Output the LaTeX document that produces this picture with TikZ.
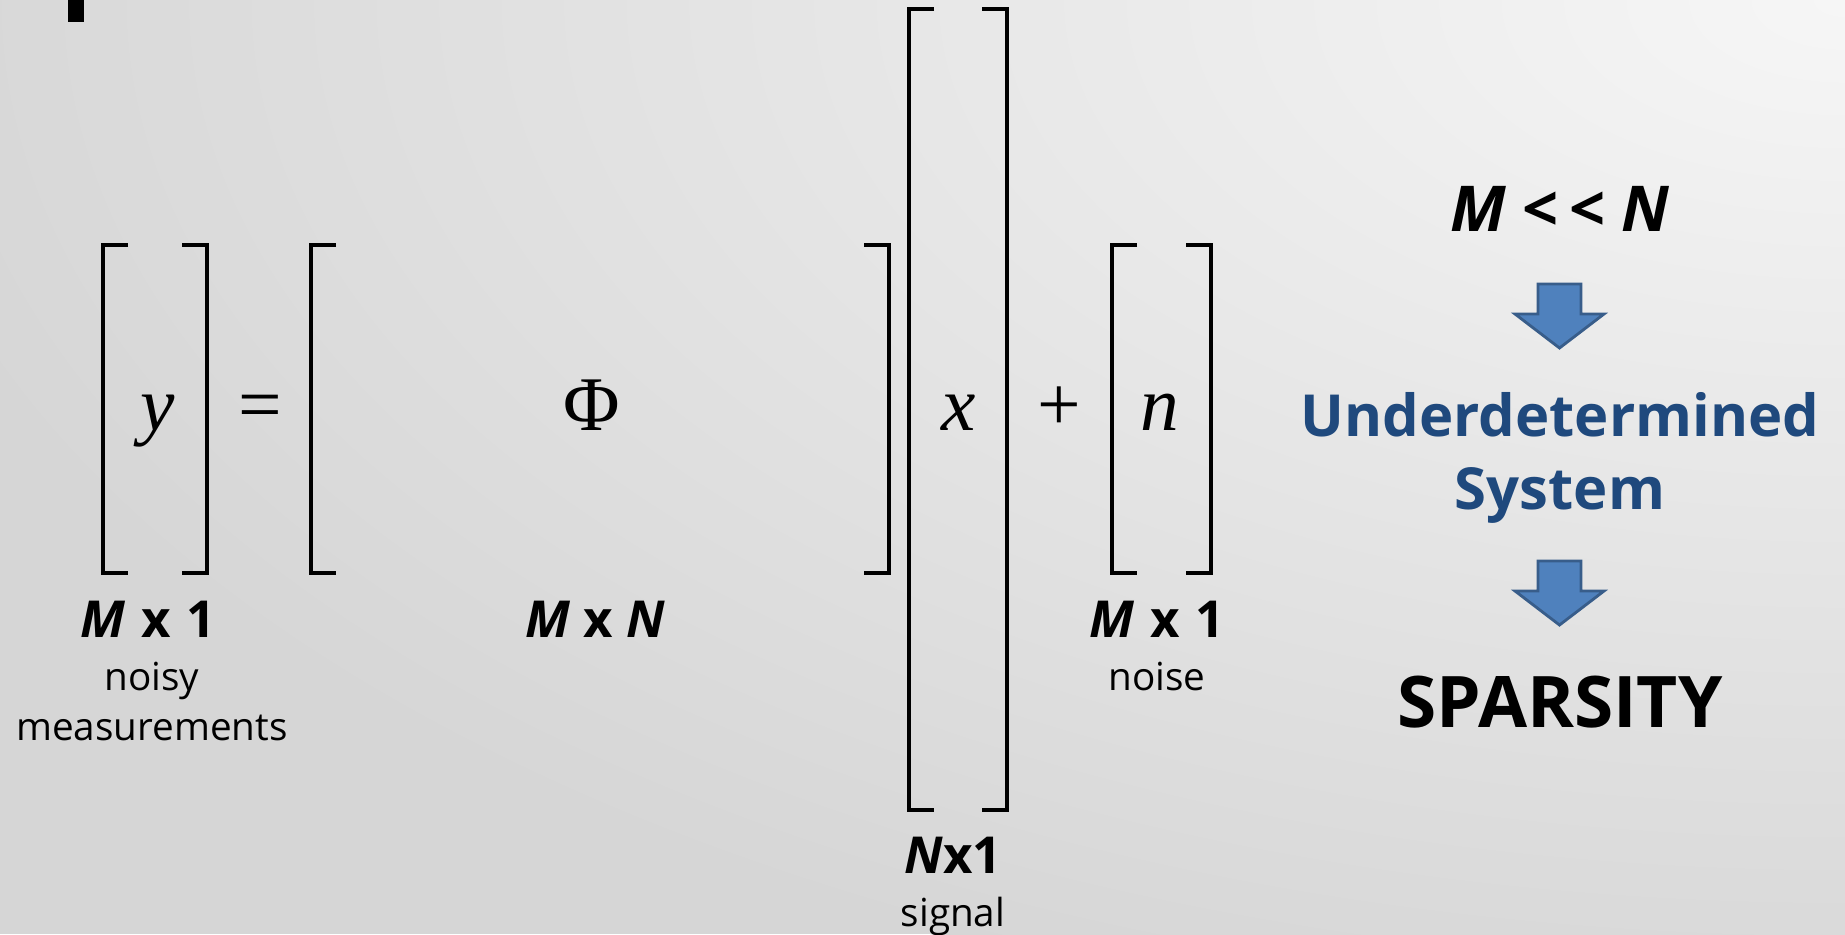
\documentclass[tikz,border=0pt]{standalone}
\usepackage{fontspec}
\setmainfont{Open Sans}
\newfontfamily\mathserif{Liberation Serif}
\usetikzlibrary{positioning}

\definecolor{headblue}{HTML}{1F497D}
\definecolor{arrowfill}{HTML}{4F81BD}
\definecolor{arrowline}{HTML}{385D8A}
\definecolor{bgdark}{HTML}{D6D6D6}
\definecolor{bglight}{HTML}{F6F6F6}

\tikzset{
	brak/.style={line width=2.2pt, line join=miter},
	letter/.style={anchor=base, inner sep=0pt, font=\mathserif\itshape\fontsize{44}{50}\selectfont},
	symb/.style={anchor=base, inner sep=0pt, font=\mathserif\fontsize{44}{50}\selectfont},
	dimlabel/.style={anchor=base, inner sep=0pt, font=\bfseries\fontsize{29}{34}\selectfont},
	caption/.style={anchor=base, inner sep=0pt, font=\fontsize{22}{26}\selectfont},
	headline/.style={anchor=base, inner sep=0pt, text=headblue, font=\bfseries\fontsize{33}{40}\selectfont},
	blockarrow/.style={fill=arrowfill, draw=arrowline, line width=1.6pt, line join=miter}
}

\begin{document}
\begin{tikzpicture}[x=0.02cm, y=-0.02cm]
		% background
		\useasboundingbox (0,0) rectangle (1845,934);
		\fill[bgdark] (0,0) rectangle (1845,934);
		\begin{scope}
			\clip (0,0) rectangle (1845,934);
			\shade[inner color=bglight, outer color=bgdark] (1845,0) ellipse [x radius=2000, y radius=1050];
		\end{scope}
		\fill (68,0) rectangle (84,22);
		
		% brackets: left x / right x / top / bottom
		\foreach \xl/\xr/\yt/\yb in {103/207/245/573, 311/889/245/573, 909/1007/9/810, 1112/1211/245/573}{
			\draw[brak] (\xl+25,\yt) -- (\xl,\yt) -- (\xl,\yb) -- (\xl+25,\yb);
			\draw[brak] (\xr-25,\yt) -- (\xr,\yt) -- (\xr,\yb) -- (\xr-25,\yb);
		}
		
		% equation
		\node[letter] (yvec) at (158,430) {y};
		\node[symb] (eq) at (260,430) {=};
		\node[symb] (phi) at (592,430) {Φ};
		\node[letter] (xvec) at (959,430) {x};
		\node[symb] (plus) at (1059,430) {+};
		\node[letter] (nvec) at (1160,430) {n};
		
		% sizes and captions
		\node[dimlabel] (ydim) at (148,637) {\textit{M}\kern1.5pt{} x\kern1.5pt{} 1};
		\node[caption] (ycap) at (152,690) {noisy};
		\node[caption] (ycap2) at (152,740) {measurements};
		\node[dimlabel] (phidim) at (595,637) {\textit{M} x \textit{N}};
		\node[dimlabel] (xdim) at (953,873) {\textit{N}x1};
		\node[caption] (xcap) at (953,926) {signal};
		\node[dimlabel] (ndim) at (1157,637) {\textit{M}\kern1.5pt{} x\kern1.5pt{} 1};
		\node[caption] (ncap) at (1157,690) {noise};
		
		% right column
		\node[dimlabel, font=\bfseries\fontsize{36}{40}\selectfont] (cond) at (1560,231) {\textit{M} <\,< \textit{N}};
		\node[headline] (under) at (1560,436) {Underdetermined};
		\node[headline] (system) at (1560,509) {System};
		\node[anchor=base, inner sep=0pt, font=\bfseries\fontsize{40.5}{46}\selectfont] (sparse) at (1560,727) {SPARSITY};
		\foreach \ay in {284,561}{
			\draw[blockarrow] (1538,\ay) -- (1581,\ay) -- (1581,\ay+30) -- (1604,\ay+30) -- (1559.5,\ay+64) -- (1515,\ay+30) -- (1538,\ay+30) -- cycle;
		}
	\end{tikzpicture}
\end{document}
